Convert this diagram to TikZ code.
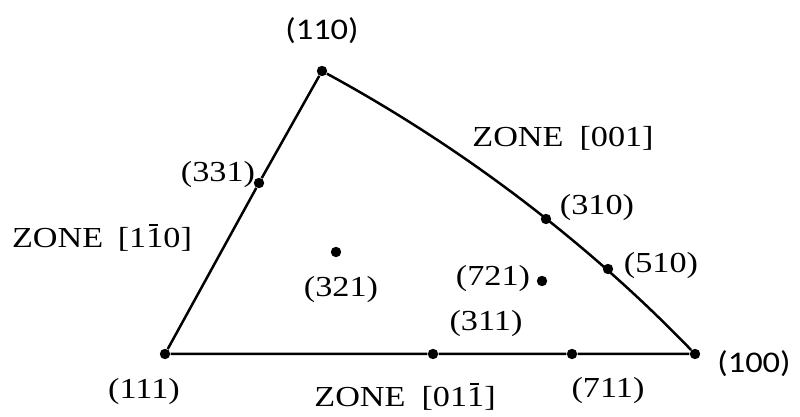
\documentclass[tikz,border=0pt]{standalone}
\usepackage{fontspec}
\newfontfamily\serifz[FakeStretch=1.18]{Liberation Serif}
\newfontfamily\sansz[FakeStretch=1.15]{Carlito}
\newcommand\ob{\leavevmode\rlap{\hspace{0.1em}\raisebox{0.74em}{\rule{0.3em}{0.06em}}}1}
\tikzset{
  pole/.style = {circle, fill=black, minimum size=5.2pt, inner sep=0},
  zone/.style = {line width=1.25pt},
  hkl/.style  = {font=\serifz\fontsize{14.5}{16}\selectfont, inner sep=0},
  hkls/.style = {font=\sansz\fontsize{15}{17}\selectfont, inner sep=0}
}
\begin{document}
\begin{tikzpicture}[x=0.5pt,y=-0.5pt]
  \useasboundingbox (0,0) rectangle (800,417);

  % corners of the triangle
  \node[pole] (p110) at (322, 71){}; \node[hkls] at (322, 31) {(110)};
  \node[pole] (p111) at (165,354){}; \node[hkl]  at (144,392) {(111)};
  \node[pole] (p100) at (695,354){}; \node[hkls] at (754,364) {(100)};

  % poles on the zones
  \node[pole] (p331) at (259,183){}; \node[hkl] at (218,175) {(331)};
  \node[pole] (p310) at (546,219){}; \node[hkl] at (597,208) {(310)};
  \node[pole] (p510) at (608,269){}; \node[hkl] at (661,266) {(510)};
  \node[pole] (p311) at (433,354){}; \node[hkl] at (486,324) {(311)};
  \node[pole] (p711) at (572,354){}; \node[hkl] at (608,391) {(711)};

  % inside
  \node[pole] (p321) at (336,252){}; \node[hkl] at (341,290) {(321)};
  \node[pole] (p721) at (542,281){}; \node[hkl] at (493,279) {(721)};

  \draw[zone] (p110) -- (p331) -- (p111) -- (p311) -- (p711) -- (p100);
  \draw[zone] (p110) .. controls (460,146) and (586,241) .. (p100);

  \node[hkl] at (563,138) {ZONE\hspace{0.55em}[001]};
  \node[hkl] at (102,238) {ZONE\hspace{0.5em}[1\ob0]};
  \node[hkl] at (405,397) {ZONE\hspace{0.55em}[01\ob]};

\end{tikzpicture}
\end{document}
